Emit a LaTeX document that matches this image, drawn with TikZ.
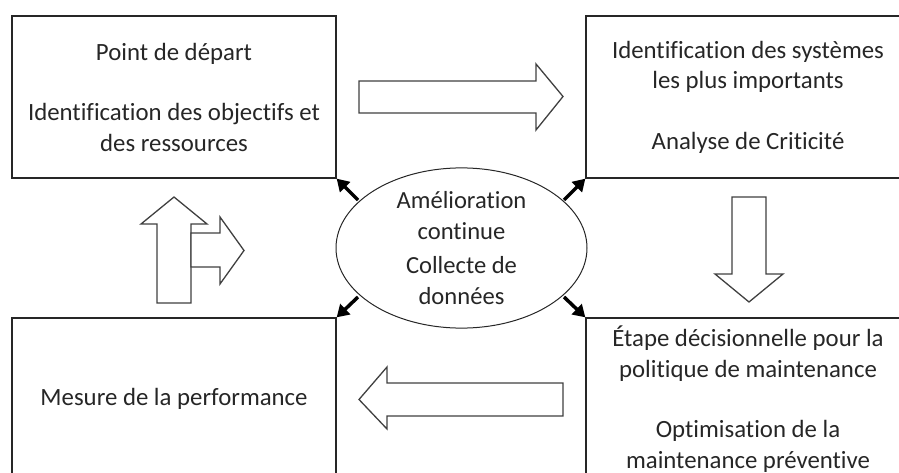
\documentclass[tikz,border=0pt]{standalone}
\usepackage{fontspec}
\setmainfont{Carlito}[Ligatures=NoCommon]
\usetikzlibrary{arrows.meta,shapes.geometric}
\tikzset{
  boxnode/.style={draw=black!85, line width=1.3pt, minimum width=324pt, minimum height=162pt, inner sep=0pt, align=center, text=black!85, font=\fontsize{24.8}{30.5}\selectfont},
  ellnode/.style={ellipse, draw=black!85, line width=1pt, minimum width=251pt, minimum height=140pt, inner sep=0pt, align=center, text=black!85, font=\fontsize{24.6}{31}\selectfont},
  blockarrow/.style={draw=black!75, line width=1.3pt, fill=white, line join=miter},
  smallarrow/.style={line width=3.5pt, -{Triangle[length=12pt,width=14pt]}, black}
}
\begin{document}
\begin{tikzpicture}[x=1pt,y=-1pt]
\useasboundingbox (0,0) rectangle (899,473);
\clip (0,0) rectangle (899,473);
% boxes
\node[boxnode] (tl) at (174,97) {Point de départ\\[30pt]Identification des objectifs et\\des ressources};
\node[boxnode] (tr) at (748,97) {Identification des systèmes\\les plus importants\\[30pt]Analyse de Criticité};
\node[boxnode] (bl) at (174,399) {Mesure de la performance};
\node[boxnode] (br) at (748,399) {Étape décisionnelle pour la\\politique de maintenance\\[30pt]Optimisation de la\\maintenance préventive};
% ellipse
\node[ellnode] (ell) at (461.5,248) {Amélioration\\continue\\[3pt]Collecte de\\données};
% small black arrows
\coordinate (atl) at (358,200);
\coordinate (atr) at (564,200);
\coordinate (abl) at (358,297);
\coordinate (abr) at (564,297);
\draw[smallarrow] (atl) -- (tl.south east);
\draw[smallarrow] (atr) -- (tr.south west);
\draw[smallarrow] (abl) -- (bl.north east);
\draw[smallarrow] (abr) -- (br.north west);
% block arrows
\draw[blockarrow] (359,81) -- (536,81) -- (536,64) -- (563,96.5) -- (536,130) -- (536,113) -- (359,113) -- cycle;
\draw[blockarrow] (732,197) -- (766,197) -- (766,274) -- (783,274) -- (749,302) -- (715,274) -- (732,274) -- cycle;
\draw[blockarrow] (563,383) -- (387,383) -- (387,367) -- (359,399.5) -- (387,429) -- (387,416) -- (563,416) -- cycle;
% bent arrow (up + right)
\draw[blockarrow] (157,303) -- (157,224) -- (141,224) -- (174,197) -- (207,224) -- (191,224) -- (191,303) -- cycle;
\draw[blockarrow] (191,233) -- (220,233) -- (220,217) -- (244,250.5) -- (220,284) -- (220,267) -- (191,267) -- cycle;
\end{tikzpicture}
\end{document}
